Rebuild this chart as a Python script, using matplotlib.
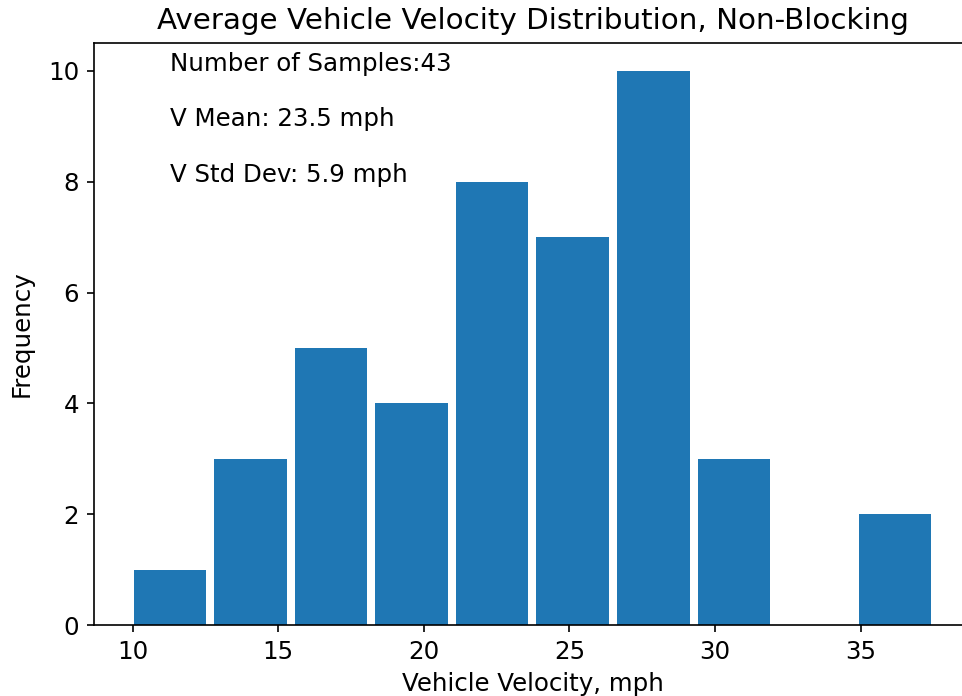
import matplotlib
matplotlib.use("Agg")
import matplotlib.pyplot as plt
import numpy as np

# histogram of average vehicle velocity (10 bins)
bin_edges = np.array([9.9, 12.67, 15.43, 18.2, 20.96, 23.73, 26.5, 29.26, 32.03, 34.8, 37.56])
counts = [1, 3, 5, 4, 8, 7, 10, 3, 0, 2]
stats_lines = ["Number of Samples:43", "V Mean: 23.5 mph", "V Std Dev: 5.9 mph"]

plt.rcParams["font.size"] = 11.75

fig = plt.figure(figsize=(962 / 150, 696 / 150), dpi=150)
# right edge of the axes falls just outside the picture (cropped original)
ax = fig.add_axes([0.0975, 0.102, 0.912, 0.836])

centers = (bin_edges[:-1] + bin_edges[1:]) / 2
ax.hist(centers, bins=bin_edges, weights=counts, rwidth=0.9, color="#1f77b4")

for i, line in enumerate(stats_lines):
    ax.text(11.28, 10 - i, line)

ax.set_title("Average Vehicle Velocity Distribution, Non-Blocking", fontsize=14.1, pad=7)
ax.set_xlabel("Vehicle Velocity, mph")
ax.set_ylabel("Frequency", labelpad=7)

fig.savefig("out.png", dpi=150)
plt.close(fig)
